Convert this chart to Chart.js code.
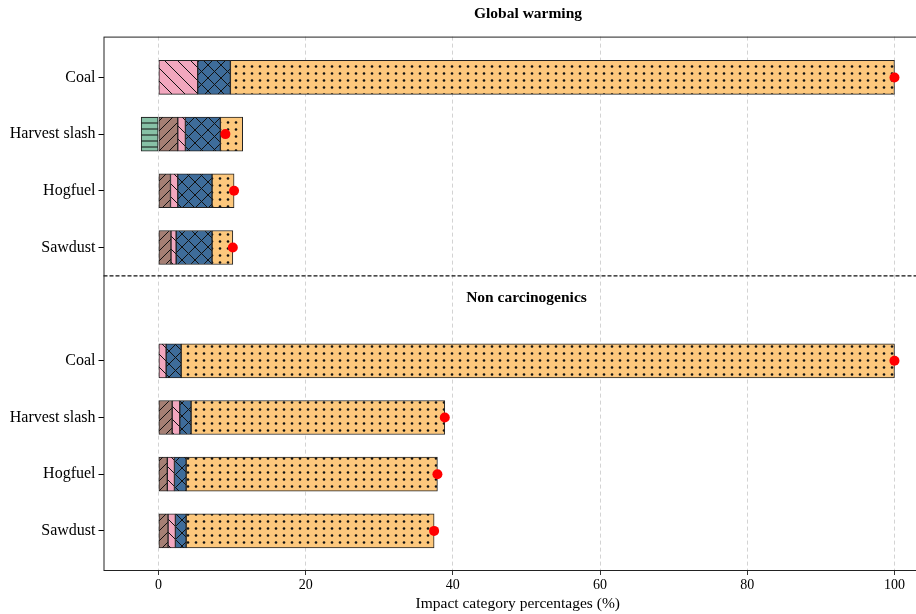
<!DOCTYPE html>
<html>
<head>
<meta charset="utf-8">
<script src="https://cdn.jsdelivr.net/npm/chart.js@4.4.1/dist/chart.umd.min.js"></script>
<style>
  html, body { margin: 0; padding: 0; background: #fff; overflow: hidden; }
  #wrap { width: 916px; height: 614px; overflow: hidden; }
</style>
</head>
<body>
<div id="wrap"><canvas id="chart" width="1056" height="614"></canvas></div>
<script>
// rows: 0-3 global warming, 5-8 non carcinogenics
const categories = ['Coal', 'Harvest slash', 'Hogfuel', 'Sawdust'];
const rowPos = [0, 1, 2, 3, 5, 6, 7, 8];
const rowLabels = categories.concat(categories);
const panelTitles = ['Global warming', 'Non carcinogenics'];

const greenVals  = [null, -2.35, null, null,   null, null, null, null];
const brownVals  = [null, 2.62, 1.63, 1.70,    null, 1.86, 1.20, 1.30];
const pinkVals   = [5.33, 1.04, 0.99, 0.70,    1.04, 1.03, 0.97, 1.00];
const blueVals   = [4.44, 4.75, 4.66, 4.88,    2.04, 1.54, 1.59, 1.46];
const orangeVals = [90.23, 3.03, 2.99, 2.82,   96.92, 34.47, 34.14, 33.69];
const netVals    = [100, 9.09, 10.27, 10.10,   100, 38.9, 37.9, 37.45];

const xTicks = [0, 20, 40, 60, 80, 100];

const serif = "'Liberation Serif', 'Times New Roman', serif";

function makePattern(bg, kind) {
    const s = kind === 'dots' ? 8 : kind === 'hline' ? 6 : kind === 'fwd' ? 10 : 13;
    const h = kind === 'dots' ? 7 : s;
    const c = document.createElement('canvas');
    c.width = s; c.height = h;
    const g = c.getContext('2d');
    g.fillStyle = bg;
    g.fillRect(0, 0, s, h);
    g.strokeStyle = '#111';
    g.fillStyle = '#111';
    g.lineWidth = 1;
    g.beginPath();
    if (kind === 'dots') {
        g.arc(s / 2, h / 2, 1.3, 0, Math.PI * 2);
        g.fill();
        return g.createPattern(c, 'repeat');
    }
    if (kind === 'hline') {
        g.moveTo(0, h / 2); g.lineTo(s, h / 2);
    }
    if (kind === 'fwd' || kind === 'cross') {
        g.moveTo(-1, s + 1); g.lineTo(s + 1, -1);
        g.moveTo(-1, 1); g.lineTo(1, -1);
        g.moveTo(s - 1, s + 1); g.lineTo(s + 1, s - 1);
    }
    if (kind === 'back' || kind === 'cross') {
        g.moveTo(-1, -1); g.lineTo(s + 1, s + 1);
        g.moveTo(s - 1, -1); g.lineTo(s + 1, 1);
        g.moveTo(-1, s - 1); g.lineTo(1, s + 1);
    }
    g.stroke();
    return g.createPattern(c, 'repeat');
}

function toPoints(vals) {
    return vals.map((v, i) => ({ x: v, y: rowPos[i] }));
}

function barSet(vals, color, kind) {
    return {
        type: 'bar',
        data: toPoints(vals),
        backgroundColor: makePattern(color, kind),
        borderColor: '#222',
        borderWidth: 1,
        borderSkipped: false,
        barThickness: 34,
        stack: 'bars'
    };
}

const panelPlugin = {
    id: 'panels',
    beforeDatasetsDraw(chart) {
        const { ctx, chartArea: a, scales: { x, y } } = chart;
        ctx.save();
        // separator between the two panels
        ctx.strokeStyle = '#111';
        ctx.lineWidth = 1.2;
        ctx.setLineDash([4, 2]);
        ctx.beginPath();
        ctx.moveTo(a.left, y.getPixelForValue(3.5));
        ctx.lineTo(a.right, y.getPixelForValue(3.5));
        ctx.stroke();
        ctx.setLineDash([]);
        // frame
        ctx.strokeStyle = '#222';
        ctx.lineWidth = 1;
        ctx.strokeRect(a.left + 0.5, a.top + 0.5, a.right - a.left, a.bottom - a.top);
        // second panel title
        ctx.fillStyle = '#000';
        ctx.font = 'bold 15.5px ' + serif;
        ctx.textAlign = 'center';
        ctx.textBaseline = 'middle';
        ctx.fillText(panelTitles[1], x.getPixelForValue(50), y.getPixelForValue(3.89));
        ctx.restore();
    }
};

new Chart(document.getElementById('chart'), {
    data: {
        datasets: [
            {
                type: 'scatter',
                data: toPoints(netVals),
                backgroundColor: '#ff0000',
                borderWidth: 0,
                pointRadius: 5,
                stack: 'dots',
                clip: false
            },
            barSet(greenVals, '#87c1a6', 'hline'),
            barSet(brownVals, '#a57f74', 'fwd'),
            barSet(pinkVals, '#f2a7be', 'back'),
            barSet(blueVals, '#3e6c9a', 'cross'),
            barSet(orangeVals, '#fdc87d', 'dots')
        ]
    },
    options: {
        indexAxis: 'y',
        responsive: false,
        animation: false,
        layout: { padding: 0 },
        plugins: {
            legend: { display: false },
            tooltip: { enabled: false },
            title: {
                display: true,
                text: panelTitles[0],
                color: '#000',
                font: { family: serif, size: 15.5, weight: 'bold' },
                padding: { top: 5, bottom: 13 }
            }
        },
        scales: {
            x: {
                type: 'linear',
                stacked: true,
                min: -7.47,
                max: 105.1,
                afterBuildTicks: s => { s.ticks = xTicks.map(v => ({ value: v })); },
                afterFit: s => { s.height = 44; },
                ticks: { color: '#000', font: { family: serif, size: 14 }, padding: 2 },
                grid: {
                    color: '#c8c8c8',
                    lineWidth: 0.8,
                    tickColor: '#000',
                    tickLength: 5,
                    tickBorderDash: []
                },
                border: { display: false, dash: [4, 3] },
                title: {
                    display: true,
                    text: 'Impact category percentages (%)',
                    color: '#000',
                    font: { family: serif, size: 15.5 },
                    padding: { top: 0, bottom: 1 }
                }
            },
            y: {
                type: 'linear',
                stacked: true,
                reverse: true,
                offset: false,
                min: -0.72,
                max: 8.69,
                afterBuildTicks: s => { s.ticks = rowPos.map(v => ({ value: v })); },
                afterFit: s => { s.width = 103.5; },
                ticks: {
                    color: '#000',
                    font: { family: serif, size: 16 },
                    padding: 3,
                    callback: v => rowLabels[rowPos.indexOf(v)]
                },
                grid: { offset: false, drawOnChartArea: false, color: '#000', tickLength: 5 },
                border: { display: false }
            },
            // empty right-hand space: the plot runs past the visible edge
            yRight: {
                type: 'linear',
                position: 'right',
                afterFit: s => { s.width = 124; },
                ticks: { display: false },
                grid: { display: false },
                border: { display: false }
            }
        }
    },
    plugins: [panelPlugin]
});
</script>
</body>
</html>
